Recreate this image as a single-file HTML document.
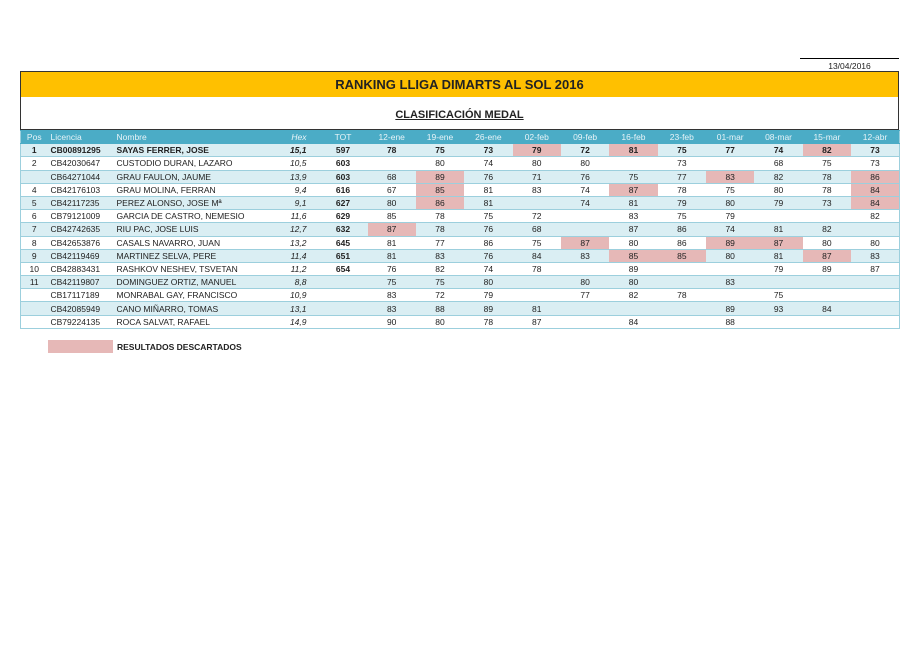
<!DOCTYPE html>
<html><head><meta charset="utf-8"><style>
body{margin:0;background:#fff;font-family:"Liberation Sans",sans-serif;width:920px;height:650px;position:relative;overflow:hidden;color:#222}
.date{position:absolute;left:800px;top:58px;width:99px;border-top:1px solid #000;text-align:center;font-size:8.5px;padding-top:2px}
.title{position:absolute;left:20px;top:71px;width:877px;height:25px;background:#FFC000;border:1px solid #333;text-align:center;font-weight:bold;font-size:13px;line-height:25px;color:#222}
.sub{position:absolute;left:20px;top:97px;width:877px;height:32px;background:#fff;border:1px solid #333;border-top:none;text-align:center;font-weight:bold;font-size:11px;line-height:36px;}
.sub span{text-decoration:underline}
table{position:absolute;left:20px;top:130px;border-collapse:collapse;table-layout:fixed;width:879px;font-size:8.5px;border-left:1px solid #9CCFDD;border-right:1px solid #9CCFDD}
td{height:12.2px;padding:0;border-top:1px solid #9CCFDD;border-bottom:1px solid #9CCFDD;text-align:center;white-space:nowrap;overflow:hidden;line-height:12px}
tr.h td{background:#4BACC6;color:#E8F4F8;border-color:#4BACC6}
tr.o td{background:#DAEEF3}
tr.e td{background:#fff}
td.l{text-align:left;padding-left:3px}
td.i{font-style:italic;text-align:right;padding-right:12px}
td.b{font-weight:bold}
tr td.p{background:#E6B8B7}
tr.bold td{font-weight:bold}
.leg{position:absolute;left:48px;top:340px;width:65px;height:13px;background:#E6B8B7}
.legt{position:absolute;left:117px;top:342px;font-size:8.5px;font-weight:bold}
</style></head><body>
<div class="date">13/04/2016</div>
<div class="title">RANKING LLIGA DIMARTS AL SOL 2016</div>
<div class="sub"><span>CLASIFICACIÓN MEDAL</span></div>
<table>
<colgroup><col style="width:27px"><col style="width:66px"><col style="width:155px"><col style="width:50px"><col style="width:49px"><col span="11" style="width:48.36px"></colgroup>
<tr class="h"><td>Pos</td><td class="l">Licencia</td><td class="l">Nombre</td><td class="i">Hex</td><td>TOT</td><td>12-ene</td><td>19-ene</td><td>26-ene</td><td>02-feb</td><td>09-feb</td><td>16-feb</td><td>23-feb</td><td>01-mar</td><td>08-mar</td><td>15-mar</td><td>12-abr</td></tr>
<tr class="o bold"><td>1</td><td class="l">CB00891295</td><td class="l">SAYAS FERRER, JOSE</td><td class="i">15,1</td><td>597</td><td>78</td><td>75</td><td>73</td><td class="p">79</td><td>72</td><td class="p">81</td><td>75</td><td>77</td><td>74</td><td class="p">82</td><td>73</td></tr>
<tr class="e"><td>2</td><td class="l">CB42030647</td><td class="l">CUSTODIO DURAN, LAZARO</td><td class="i">10,5</td><td class="b">603</td><td></td><td>80</td><td>74</td><td>80</td><td>80</td><td></td><td>73</td><td></td><td>68</td><td>75</td><td>73</td></tr>
<tr class="o"><td></td><td class="l">CB64271044</td><td class="l">GRAU FAULON, JAUME</td><td class="i">13,9</td><td class="b">603</td><td>68</td><td class="p">89</td><td>76</td><td>71</td><td>76</td><td>75</td><td>77</td><td class="p">83</td><td>82</td><td>78</td><td class="p">86</td></tr>
<tr class="e"><td>4</td><td class="l">CB42176103</td><td class="l">GRAU MOLINA, FERRAN</td><td class="i">9,4</td><td class="b">616</td><td>67</td><td class="p">85</td><td>81</td><td>83</td><td>74</td><td class="p">87</td><td>78</td><td>75</td><td>80</td><td>78</td><td class="p">84</td></tr>
<tr class="o"><td>5</td><td class="l">CB42117235</td><td class="l">PEREZ ALONSO, JOSE Mª</td><td class="i">9,1</td><td class="b">627</td><td>80</td><td class="p">86</td><td>81</td><td></td><td>74</td><td>81</td><td>79</td><td>80</td><td>79</td><td>73</td><td class="p">84</td></tr>
<tr class="e"><td>6</td><td class="l">CB79121009</td><td class="l">GARCIA DE CASTRO, NEMESIO</td><td class="i">11,6</td><td class="b">629</td><td>85</td><td>78</td><td>75</td><td>72</td><td></td><td>83</td><td>75</td><td>79</td><td></td><td></td><td>82</td></tr>
<tr class="o"><td>7</td><td class="l">CB42742635</td><td class="l">RIU PAC, JOSE LUIS</td><td class="i">12,7</td><td class="b">632</td><td class="p">87</td><td>78</td><td>76</td><td>68</td><td></td><td>87</td><td>86</td><td>74</td><td>81</td><td>82</td><td></td></tr>
<tr class="e"><td>8</td><td class="l">CB42653876</td><td class="l">CASALS NAVARRO, JUAN</td><td class="i">13,2</td><td class="b">645</td><td>81</td><td>77</td><td>86</td><td>75</td><td class="p">87</td><td>80</td><td>86</td><td class="p">89</td><td class="p">87</td><td>80</td><td>80</td></tr>
<tr class="o"><td>9</td><td class="l">CB42119469</td><td class="l">MARTINEZ SELVA, PERE</td><td class="i">11,4</td><td class="b">651</td><td>81</td><td>83</td><td>76</td><td>84</td><td>83</td><td class="p">85</td><td class="p">85</td><td>80</td><td>81</td><td class="p">87</td><td>83</td></tr>
<tr class="e"><td>10</td><td class="l">CB42883431</td><td class="l">RASHKOV NESHEV, TSVETAN</td><td class="i">11,2</td><td class="b">654</td><td>76</td><td>82</td><td>74</td><td>78</td><td></td><td>89</td><td></td><td></td><td>79</td><td>89</td><td>87</td></tr>
<tr class="o"><td>11</td><td class="l">CB42119807</td><td class="l">DOMINGUEZ ORTIZ, MANUEL</td><td class="i">8,8</td><td></td><td>75</td><td>75</td><td>80</td><td></td><td>80</td><td>80</td><td></td><td>83</td><td></td><td></td><td></td></tr>
<tr class="e"><td></td><td class="l">CB17117189</td><td class="l">MONRABAL GAY, FRANCISCO</td><td class="i">10,9</td><td></td><td>83</td><td>72</td><td>79</td><td></td><td>77</td><td>82</td><td>78</td><td></td><td>75</td><td></td><td></td></tr>
<tr class="o"><td></td><td class="l">CB42085949</td><td class="l">CANO MIÑARRO, TOMAS</td><td class="i">13,1</td><td></td><td>83</td><td>88</td><td>89</td><td>81</td><td></td><td></td><td></td><td>89</td><td>93</td><td>84</td><td></td></tr>
<tr class="e"><td></td><td class="l">CB79224135</td><td class="l">ROCA SALVAT, RAFAEL</td><td class="i">14,9</td><td></td><td>90</td><td>80</td><td>78</td><td>87</td><td></td><td>84</td><td></td><td>88</td><td></td><td></td><td></td></tr>
</table>
<div class="leg"></div><div class="legt">RESULTADOS DESCARTADOS</div>
</body></html>
